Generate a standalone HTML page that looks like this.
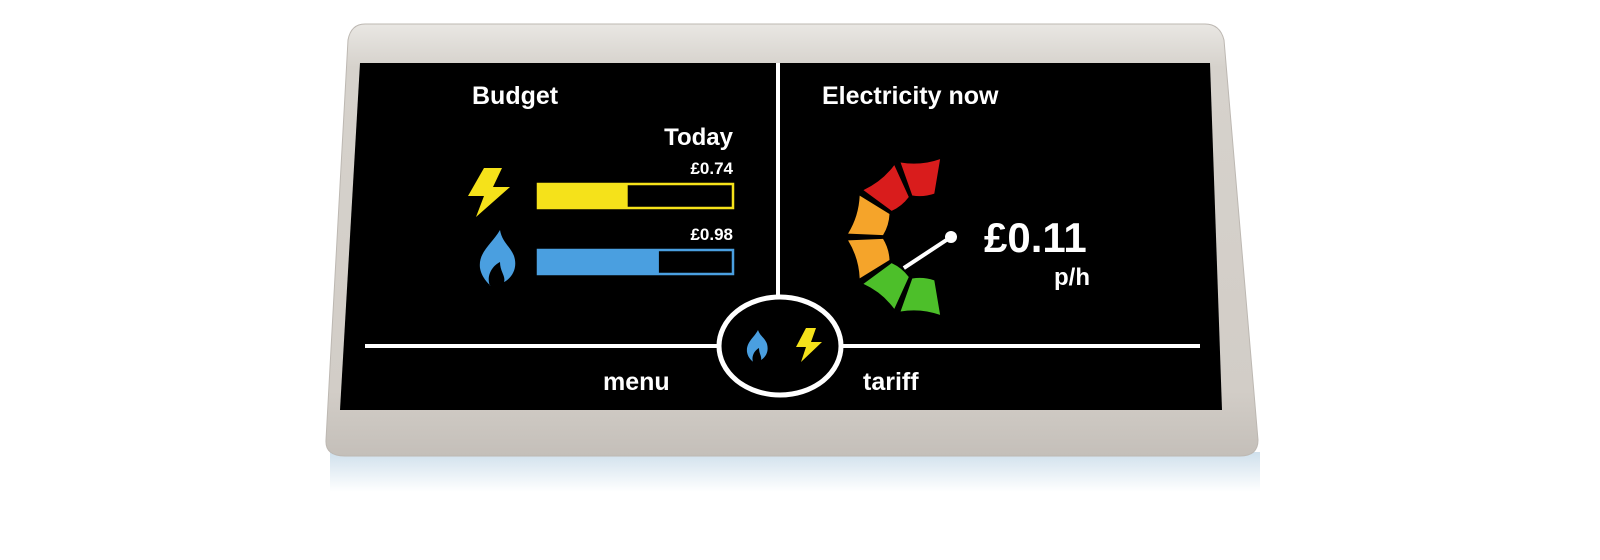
<!DOCTYPE html>
<html><head><meta charset="utf-8"><style>
html,body{margin:0;padding:0;background:#fff;width:1600px;height:560px;overflow:hidden}
svg{display:block}
text{font-family:"Liberation Sans",sans-serif;font-weight:bold;fill:#fff}
</style></head><body>
<svg width="1600" height="560" viewBox="0 0 1600 560">
<defs>
<linearGradient id="body" x1="0" y1="0" x2="0" y2="1">
<stop offset="0" stop-color="#e9e7e3"/><stop offset="0.1" stop-color="#d6d2cc"/><stop offset="0.85" stop-color="#d2cdc7"/><stop offset="1" stop-color="#c4bfb9"/></linearGradient>
<linearGradient id="shadow" x1="0" y1="0" x2="0" y2="1"><stop offset="0" stop-color="#cfe0ec"/><stop offset="1" stop-color="#fff"/></linearGradient>
</defs>
<rect x="330" y="452" width="930" height="40" fill="url(#shadow)"/>
<path d="M365 24 L1205 24 Q1220 24 1224 40 L1258 440 Q1258 456 1240 456 L345 456 Q325 456 326 440 L348 40 Q351 24 365 24 Z" fill="url(#body)" stroke="#bdb8b2"/>
<path d="M360 63 L1210 63 L1222 410 L340 410 Z" fill="#000"/>
<line x1="778" y1="63" x2="778" y2="296" stroke="#fff" stroke-width="4"/>
<line x1="365" y1="346" x2="718" y2="346" stroke="#fff" stroke-width="4"/>
<line x1="842" y1="346" x2="1200" y2="346" stroke="#fff" stroke-width="4"/>
<ellipse cx="780" cy="346" rx="61" ry="49" fill="#000" stroke="#fff" stroke-width="5"/>
<text x="472" y="104" font-size="25">Budget</text>
<text x="733" y="145" font-size="24" text-anchor="end">Today</text>
<text x="822" y="104" font-size="25">Electricity now</text>
<g id="bars"></g>
<path d="M484 168 L468 196 L484 196 L476 217 L510 187 L493 187 L502 168 Z" fill="#f5e21a"/>
<path d="M500 230 C492 244 478 252 480 268 C482 280 492 286 490 286 C486 276 492 266 500 262 C500 272 506 276 504 282 C512 278 518 268 514 256 C510 246 502 242 500 230 Z" fill="#4a9fe0"/>
<path d="M758 330 C754 338 746 342 747 352 C748 359 754 362 753 362 C751 356 755 350 759 348 C759 354 762 356 761 360 C766 357 769 351 767 344 C765 338 760 336 758 330 Z" fill="#4a9fe0"/>
<path d="M806 328 L796 347 L806 347 L801 362 L822 342 L811 342 L816 328 Z" fill="#f5e21a"/>
<g id="gauge"></g>
<text x="984" y="252" font-size="42">£0.11</text>
<text x="1054" y="285" font-size="24">p/h</text>
<text x="603" y="390" font-size="25">menu</text>
<text x="863" y="390" font-size="25">tariff</text>
</svg>
<script>
const fuels = ['electricity', 'gas'];
const budgetFractions = [0.46, 0.62];
const costLabels = ['£0.74', '£0.98'];
const barColors = ['#f5e21a', '#4a9fe0'];
const segmentColors = ['#d91c1c', '#d91c1c', '#f5a42a', '#f5a42a', '#4dbf2a', '#4dbf2a'];
const needleValue = 0.72;
const NS = 'http://www.w3.org/2000/svg';
const barX = 538, barW = 195, barTops = [184, 250], barH = 24;
const xScale = v => barX + v * barW;
const bars = document.getElementById('bars');
fuels.forEach((f, i) => {
  const y = barTops[i];
  const lab = document.createElementNS(NS, 'text');
  
  
  lab.setAttribute('x', 733); lab.setAttribute('y', y - 10);
  lab.setAttribute('font-size', '17'); lab.setAttribute('text-anchor', 'end');
  lab.textContent = costLabels[i]; bars.appendChild(lab);
  const outl = document.createElementNS(NS, 'rect');
  
  
  outl.setAttribute('x', barX); outl.setAttribute('y', y); outl.setAttribute('width', barW); outl.setAttribute('height', barH);
  outl.setAttribute('fill', '#000'); outl.setAttribute('stroke', barColors[i]); outl.setAttribute('stroke-width', '2.5');
  bars.appendChild(outl);
  const fill = document.createElementNS(NS, 'rect');
  
  
  fill.setAttribute('x', barX); fill.setAttribute('y', y); fill.setAttribute('width', xScale(budgetFractions[i]) - barX); fill.setAttribute('height', barH);
  fill.setAttribute('fill', barColors[i]); bars.appendChild(fill);
});
const cx = 927, cy = 237, rO = 79, rI = 44;
const gauge = document.getElementById('gauge');
const angScale = v => (78 + v * 204) * Math.PI / 180;
const pt = (r, a) => [cx + r * Math.cos(a), cy - r * Math.sin(a)];
const n = segmentColors.length, gap = 0.012;
segmentColors.forEach((c, i) => {
  const a0 = angScale(i / n + gap), a1 = angScale((i + 1) / n - gap);
  const p1 = pt(rO, a0), p2 = pt(rO, a1), p3 = pt(rI, a1), p4 = pt(rI, a0);
  const p = document.createElementNS(NS, 'path');
  
  
  p.setAttribute('d', `M${p1} A${rO} ${rO} 0 0 1 ${p2} L${p3} A${rI} ${rI} 0 0 0 ${p4}Z`);
  p.setAttribute('fill', c); gauge.appendChild(p);
});
const px = 951, py = 237;
const na = angScale(needleValue), ne = pt(rI, na);
const nl = document.createElementNS(NS, 'line');


nl.setAttribute('x1', px); nl.setAttribute('y1', py); nl.setAttribute('x2', ne[0] + 8); nl.setAttribute('y2', ne[1]);
nl.setAttribute('stroke', '#fff'); nl.setAttribute('stroke-width', '4');
gauge.appendChild(nl);
const dot = document.createElementNS(NS, 'circle');


dot.setAttribute('cx', px); dot.setAttribute('cy', py); dot.setAttribute('r', 6); dot.setAttribute('fill', '#fff');
gauge.appendChild(dot);
</script>
</body></html>
